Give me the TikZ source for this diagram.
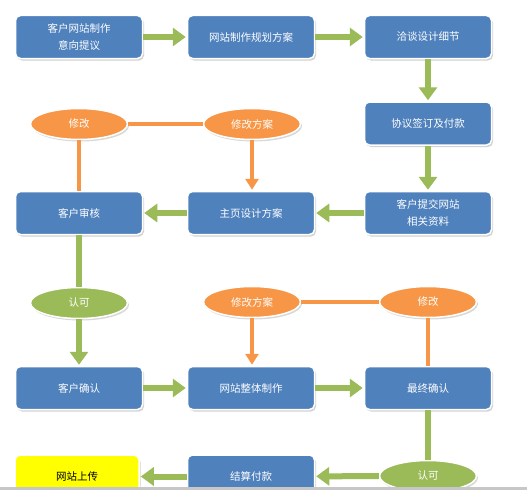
\documentclass[tikz,border=0pt]{standalone}
\usepackage{fontspec}
\setmainfont{Noto Sans CJK SC}
\usetikzlibrary{positioning, arrows.meta, shapes.geometric, shadows}
\definecolor{boxcolor}{RGB}{79,129,189}
\definecolor{okcolor}{RGB}{155,187,89}
\definecolor{modcolor}{RGB}{247,150,70}
\definecolor{uploadcolor}{RGB}{255,255,0}

\begin{document}
\begin{tikzpicture}[x=1pt, y=-1pt,
    stepbox/.style={draw=white, line width=1.5pt, rounded corners=5pt, fill=boxcolor,
        minimum width=127pt, minimum height=43pt, inner sep=2pt, text=white, align=center,
        font=\fontsize{10.5}{17}\selectfont,
        drop shadow={shadow xshift=1.5pt, shadow yshift=-2pt, fill=black!35}},
    okbubble/.style={ellipse, draw=white, line width=1.5pt, fill=okcolor, minimum width=97pt,
        minimum height=31pt, inner sep=0pt, text=white, font=\fontsize{10.5}{13}\selectfont,
        drop shadow={shadow xshift=1.5pt, shadow yshift=-2pt, fill=black!30}},
    modbubble/.style={okbubble, fill=modcolor},
    okarrow/.style={okcolor, line width=6pt, -{Triangle[length=13pt, width=18pt]}, shorten >=1pt},
    okline/.style={okcolor, line width=6pt},
    modarrow/.style={modcolor, line width=4pt, -{Triangle[length=11pt, width=13pt]}, shorten >=1pt},
    modline/.style={modcolor, line width=4pt}]
    \useasboundingbox (0,0) rectangle (532,495);

    \begin{scope}
    \clip (0,0) rectangle (532,487);

    % === Demande et contrat ===
    \node[stepbox] (request) at (79,37) {客户网站制作\\意向提议};
    \node[stepbox] (plan) at (251,37) {网站制作规划方案};
    \node[stepbox] (detail) at (428,37) {洽谈设计细节};
    \node[stepbox] (contract) at (428,123.5) {协议签订及付款};
    \node[stepbox] (material) at (428,213) {客户提交网站\\相关资料};
    \node[stepbox] (homepage) at (251,213) {主页设计方案};
    \node[stepbox] (review) at (79,213) {客户审核};

    % Boucle de modification (accueil)
    \node[modbubble] (modA) at (79,124) {修改};
    \node[modbubble] (modB) at (252,124) {修改方案};

    % === Réalisation ===
    \node[okbubble] (okA) at (79,303) {认可};
    \node[stepbox] (confirm) at (79,388) {客户确认};
    \node[stepbox] (build) at (251,388) {网站整体制作};
    \node[stepbox] (final) at (428,388) {最终确认};

    % Boucle de modification (site)
    \node[modbubble] (modC) at (252,302) {修改方案};
    \node[modbubble] (modD) at (428,302) {修改};

    % === Livraison ===
    \node[okbubble] (okB) at (428,476) {认可};
    \node[stepbox] (payment) at (251,476.5) {结算付款};
    \node[stepbox, fill=uploadcolor, text=black, minimum width=124pt] (upload) at (77,476.5) {网站上传};

    % Flèches vertes
    \draw[okarrow] (request) -- (plan);
    \draw[okarrow] (plan) -- (detail);
    \draw[okarrow] (detail) -- (contract);
    \draw[okarrow] (contract) -- (material);
    \draw[okarrow] (material) -- (homepage);
    \draw[okarrow] (homepage) -- (review);
    \draw[okline] (review.south) -- (okA.north);
    \draw[okarrow] (okA.south) -- (okA.south |- confirm.north);
    \draw[okarrow] (confirm) -- (build);
    \draw[okarrow] (build) -- (final);
    \draw[okline] (final.south) -- (okB.north);
    \draw[okarrow] (okB) -- (payment);
    \draw[okarrow] (payment) -- (upload);

    % Flèches orange
    \draw[modline] (modA) -- (modB);
    \draw[modline] (modA.south) -- (modA.south |- review.north);
    \draw[modarrow] (modB.south) -- (modB.south |- homepage.north);
    \draw[modline] (modC) -- (modD);
    \draw[modarrow] (modC.south) -- (modC.south |- build.north);
    \draw[modline] (modD.south) -- (modD.south |- final.north);
    \end{scope}

    % Bord inférieur
    \fill[black!22] (0,487) rectangle (527,489.5);
\end{tikzpicture}
\end{document}
